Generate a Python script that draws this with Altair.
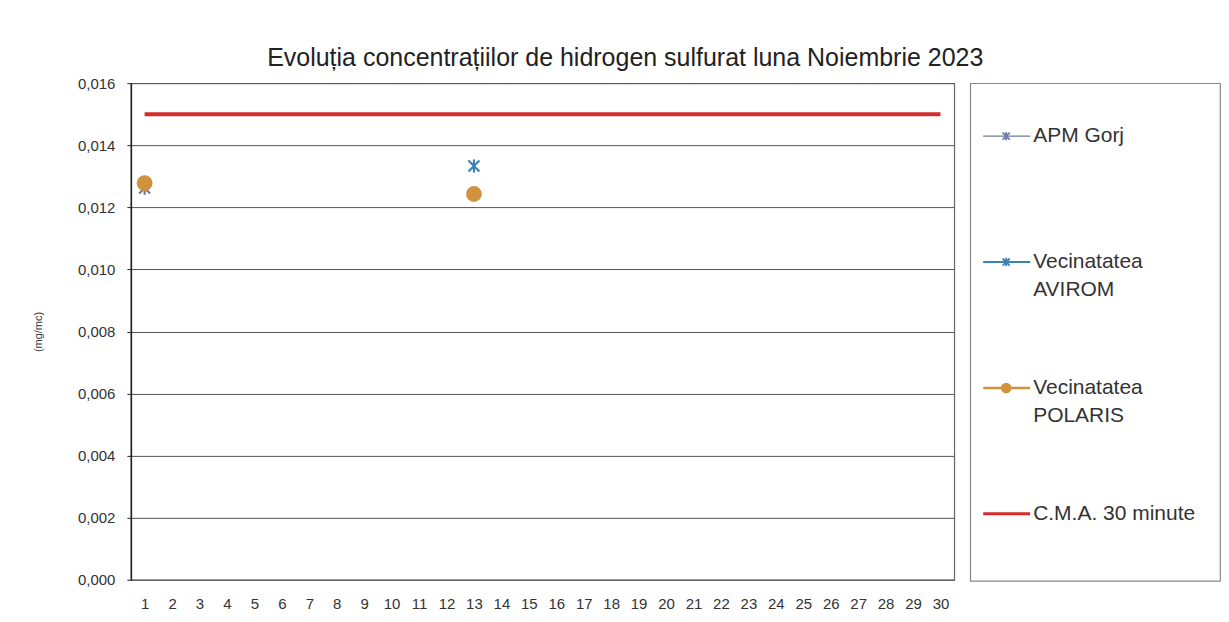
import altair as alt
import pandas as pd

# ---- data ----
days = list(range(1, 31))
apm_gorj = [0.01262] + [None] * 29
avirom = [None] * 12 + [0.01333] + [None] * 17
polaris = [0.01278] + [None] * 11 + [0.01243] + [None] * 17
cma = [0.015] * 30

series_names = ["APM Gorj", "Vecinatatea AVIROM", "Vecinatatea POLARIS", "C.M.A. 30 minute"]
series_colors = ["#6b7ba5", "#3a83b6", "#d2913c", "#d42b2b"]
legend_line1 = ["APM Gorj", "Vecinatatea", "Vecinatatea", "C.M.A. 30 minute"]
legend_line2 = ["", "AVIROM", "POLARIS", ""]
y_ticks = [0, 0.002, 0.004, 0.006, 0.008, 0.010, 0.012, 0.014, 0.016]

rows = []
for name, vals in zip(series_names, [apm_gorj, avirom, polaris, cma]):
    for d, v in zip(days, vals):
        if v is not None:
            rows.append({"day": d, "series": name, "value": v})
df = pd.DataFrame(rows)

FONT = "Liberation Sans"
STAR = "M-1,-1L1,1M-1,1L1,-1M0,-1.2L0,1.2"

color = alt.Color("series:N", scale=alt.Scale(domain=series_names, range=series_colors), legend=None)

x = alt.X(
    "day:O",
    scale=alt.Scale(type="point", domain=days, padding=0.5),
    axis=alt.Axis(title=None, labelAngle=0, ticks=False, domain=False, labelFontSize=15,
                  labelColor="#333", labelPadding=17, labelFont=FONT),
)
y = alt.Y(
    "value:Q",
    scale=alt.Scale(domain=[0, 0.016], nice=False),
    axis=alt.Axis(
        title="(mg/mc)", values=y_ticks,
        labelExpr="replace(format(datum.value, '.3f'), '.', ',')",
        grid=True, gridColor="#555", gridWidth=1,
        ticks=True, tickSize=4, tickColor="#222",
        domainColor="#222", domainWidth=1.5,
        labelFontSize=15, labelColor="#333", labelFont=FONT, labelPadding=12,
        titleFontSize=11, titleFontWeight="normal", titleColor="#333", titleFont=FONT,
        titlePadding=34,
    ),
)

base = alt.Chart(df).encode(x=x, y=y, color=color)

line_cma = base.transform_filter(alt.datum.series == "C.M.A. 30 minute").mark_line(strokeWidth=4)
stars = base.transform_filter(
    (alt.datum.series == "APM Gorj") | (alt.datum.series == "Vecinatatea AVIROM")
).mark_point(shape=STAR, filled=False, strokeWidth=2.2, size=120, opacity=1)
circles = base.transform_filter(alt.datum.series == "Vecinatatea POLARIS").mark_point(
    shape="circle", filled=True, size=250, opacity=1
)

main = alt.layer(line_cma, stars, circles).properties(
    width=824, height=497, view=alt.ViewBackground(stroke="#666", strokeWidth=1.2)
)

# ---- legend panel ----
leg_df = pd.DataFrame({"series": series_names, "line1": legend_line1, "line2": legend_line2})
ly = alt.Y("series:N", sort=series_names,
           scale=alt.Scale(type="point", domain=series_names, padding=0.476), axis=None)
lcolor = alt.Color("series:N", scale=alt.Scale(domain=series_names, range=series_colors), legend=None)
lbase = alt.Chart(leg_df).encode(y=ly)

leg_rule = lbase.mark_rule(yOffset=-7).encode(
    x=alt.value(13), x2=alt.value(60), color=lcolor,
    strokeWidth=alt.StrokeWidth("series:N", scale=alt.Scale(domain=series_names, range=[1.5, 3, 3, 4]), legend=None),
)
leg_star = lbase.transform_filter(
    (alt.datum.series == "APM Gorj") | (alt.datum.series == "Vecinatatea AVIROM")
).mark_point(shape=STAR, filled=False, strokeWidth=1.8, size=50, opacity=1, yOffset=-7).encode(
    x=alt.value(36), color=lcolor)
leg_circle = lbase.transform_filter(alt.datum.series == "Vecinatatea POLARIS").mark_point(
    shape="circle", filled=True, size=110, opacity=1, yOffset=-7).encode(x=alt.value(36), color=lcolor)
leg_text1 = lbase.mark_text(align="left", baseline="middle", fontSize=21, font=FONT, color="#333",
                            yOffset=-7).encode(x=alt.value(63), text="line1:N")
leg_text2 = lbase.mark_text(align="left", baseline="middle", fontSize=21, font=FONT, color="#333",
                            yOffset=21).encode(x=alt.value(63), text="line2:N")

legend_panel = alt.layer(leg_rule, leg_star, leg_circle, leg_text1, leg_text2).properties(
    width=250, height=498, view=alt.ViewBackground(stroke="#888", strokeWidth=1.2)
)

chart = alt.hconcat(main, legend_panel, spacing=14).properties(
    title=alt.Title(
        "Evoluția concentrațiilor de hidrogen sulfurat luna Noiembrie 2023",
        fontSize=25, font=FONT, fontWeight="normal", color="#222", offset=5, anchor="middle", dx=-1,
    ),
    padding={"left": 23, "top": 37, "right": 0, "bottom": 0},
    background="white",
)

chart.save("out.html", embed_options={"renderer": "svg", "actions": False})
